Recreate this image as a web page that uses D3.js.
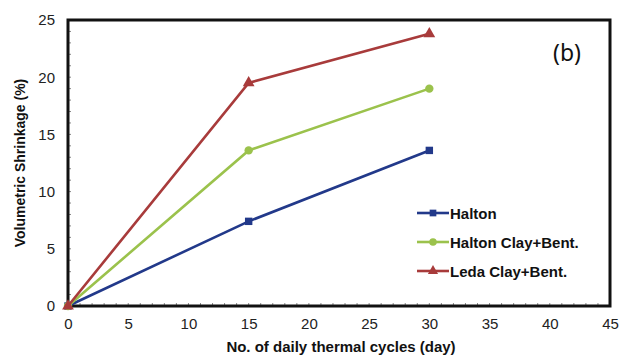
<!DOCTYPE html>
<html>
<head>
<meta charset="utf-8">
<script src="https://cdn.jsdelivr.net/npm/d3@7"></script>
<style>
  html, body { margin: 0; padding: 0; background: #fff; }
  svg { display: block; font-family: "Liberation Sans", Arial, sans-serif; }
</style>
</head>
<body>
<svg id="chart" width="619" height="356"></svg>
<script>
// Shrinkage measured after daily thermal cycles
const cycles = [0, 15, 30];
const halton = [0, 7.4, 13.6];
const haltonClayBent = [0, 13.6, 19.0];
const ledaClayBent = [0, 19.5, 23.8];

const seriesNames = ["Halton", "Halton Clay+Bent.", "Leda Clay+Bent."];
const seriesColors = ["#22398a", "#9bc24c", "#a83b3b"];
const seriesMarkers = [d3.symbolSquare, d3.symbolCircle, d3.symbolTriangle];

const xTicks = [0, 5, 10, 15, 20, 25, 30, 35, 40, 45];
const yTicks = [0, 5, 10, 15, 20, 25];

const series = [halton, haltonClayBent, ledaClayBent].map((vals, i) => ({
  name: seriesNames[i],
  color: seriesColors[i],
  marker: seriesMarkers[i],
  points: vals.map((v, j) => ({ x: cycles[j], y: v }))
}));

const svg = d3.select("#chart");
const m = { left: 68, right: 9, top: 20, bottom: 50 };
const W = 619, H = 356;

const x = d3.scaleLinear().domain([0, 45]).range([m.left, W - m.right]);
const y = d3.scaleLinear().domain([0, 25]).range([H - m.bottom, m.top]);

// minor ticks every unit, drawn inward
const minorX = d3.range(1, 45);
const minorY = d3.range(1, 25);
svg.append("g")
  .selectAll("line").data(minorX).join("line")
  .attr("x1", d => x(d)).attr("x2", d => x(d))
  .attr("y1", y(0)).attr("y2", y(0) - 3)
  .attr("stroke", "#888").attr("stroke-width", 1);
svg.append("g")
  .selectAll("line").data(minorY).join("line")
  .attr("x1", x(0)).attr("x2", x(0) + 3)
  .attr("y1", d => y(d)).attr("y2", d => y(d))
  .attr("stroke", "#888").attr("stroke-width", 1);

// tick labels via axes
const xAxis = svg.append("g")
  .attr("transform", `translate(0,${y(0)})`)
  .call(d3.axisBottom(x).tickValues(xTicks).tickSize(0).tickPadding(12));
const yAxis = svg.append("g")
  .attr("transform", `translate(${x(0)},0)`)
  .call(d3.axisLeft(y).tickValues(yTicks).tickSize(0).tickPadding(13));
[xAxis, yAxis].forEach(g => {
  g.select(".domain").remove();
  g.selectAll("text")
    .attr("font-family", "'Liberation Sans', Arial, sans-serif")
    .attr("font-size", 15).attr("fill", "#222");
});

// frame
svg.append("rect")
  .attr("x", x(0)).attr("y", y(25))
  .attr("width", x(45) - x(0)).attr("height", y(0) - y(25))
  .attr("fill", "none").attr("stroke", "#111").attr("stroke-width", 3);

// series lines and markers
const line = d3.line().x(d => x(d.x)).y(d => y(d.y));
series.forEach(s => {
  svg.append("path")
    .datum(s.points)
    .attr("d", line)
    .attr("fill", "none")
    .attr("stroke", s.color)
    .attr("stroke-width", 2.6);
  svg.append("g").selectAll("path").data(s.points).join("path")
    .attr("transform", d => `translate(${x(d.x)},${y(d.y)})`)
    .attr("d", d3.symbol().type(s.marker).size(s.marker === d3.symbolTriangle ? 60 : 55))
    .attr("fill", s.color);
});

// axis titles
svg.append("text")
  .attr("x", (x(0) + x(45)) / 2 + 2).attr("y", 352)
  .attr("text-anchor", "middle")
  .attr("font-weight", "bold").attr("font-size", 15).attr("fill", "#111")
  .text("No. of daily thermal cycles (day)");
svg.append("text")
  .attr("transform", `translate(25,${(y(0) + y(25)) / 2}) rotate(-90)`)
  .attr("text-anchor", "middle")
  .attr("font-weight", "bold").attr("font-size", 14).attr("fill", "#111")
  .text("Volumetric Shrinkage (%)");

// panel label
svg.append("text")
  .attr("x", 567).attr("y", 61)
  .attr("text-anchor", "middle")
  .attr("font-family", "'Noto Sans', sans-serif")
  .attr("font-size", 23).attr("fill", "#111")
  .text("(b)");

// legend
const legend = svg.append("g").attr("transform", "translate(417,213)");
series.forEach((s, i) => {
  const g = legend.append("g").attr("transform", `translate(0,${i * 29})`);
  g.append("line").attr("x1", 0).attr("x2", 32).attr("y1", 0).attr("y2", 0)
    .attr("stroke", s.color).attr("stroke-width", 2.6);
  g.append("path").attr("transform", "translate(16,0)")
    .attr("d", d3.symbol().type(s.marker).size(45))
    .attr("fill", s.color);
  g.append("text").attr("x", 33).attr("y", 5.5)
    .attr("font-weight", "bold").attr("font-size", 15).attr("fill", "#111")
    .text(s.name);
});
</script>
</body>
</html>
